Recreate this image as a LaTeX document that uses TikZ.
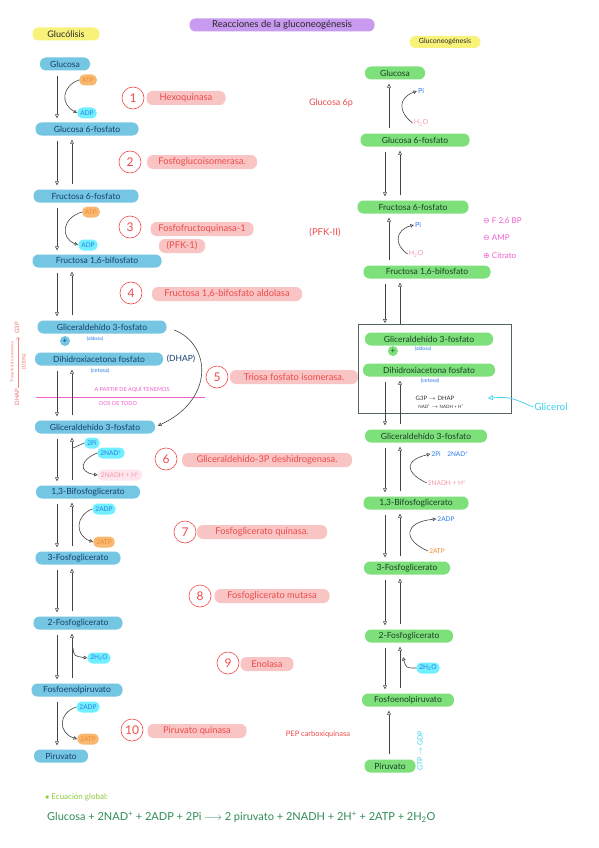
\documentclass[tikz,border=0pt]{standalone}
\usepackage{fontspec}
\setmainfont{Lato}
\newfontfamily\dejavu{DejaVu Sans}
\usetikzlibrary{arrows.meta}
\definecolor{pblue}{HTML}{74C6E2}
\definecolor{tblue}{HTML}{163F70}
\definecolor{pgreen}{HTML}{7EE07A}
\definecolor{tgreen}{HTML}{1A3F26}
\definecolor{ppink}{HTML}{F9C4C4}
\definecolor{tred}{HTML}{EE4B4B}
\definecolor{pcyan}{HTML}{70F0FF}
\definecolor{tcyan}{HTML}{2B7BE8}
\definecolor{porange}{HTML}{F9B872}
\definecolor{torange}{HTML}{F08A2A}
\definecolor{ppurple}{HTML}{C89AF0}
\definecolor{pyellow}{HTML}{F8F27A}
\definecolor{tmag}{HTML}{F060D0}
\definecolor{lpink}{HTML}{FDE6EE}
\definecolor{tpink}{HTML}{F29AA6}
\definecolor{boxc}{HTML}{4F6658}
\definecolor{agray}{HTML}{444444}
\definecolor{glicc}{HTML}{3CCFF0}
\definecolor{eqgreen}{HTML}{2E8B5A}
\definecolor{lgreen}{HTML}{8CCB3C}
\newcommand\fsz[1]{\fontsize{#1}{#1}\selectfont}
\newcommand\pairarr[4]{%
  \draw[arr] (#1.south -| #3) -- (#2.north -| #3);
  \draw[arr] (#2.north -| #4) -- (#1.south -| #4);}
\begin{document}
\begin{tikzpicture}[x=1pt,y=-1pt,
  pill/.style={rounded corners=6pt, minimum height=13pt, inner xsep=3pt, inner ysep=0.5pt, font=\fsz{8.5}},
  gly/.style={pill, fill=pblue, text=tblue},
  gng/.style={pill, fill=pgreen, text=tgreen},
  enz/.style={pill, fill=ppink, text=tred, font=\fsz{9.3}, minimum height=14pt},
  num/.style={circle, draw=tred, text=tred, minimum size=22pt, inner sep=0pt, font=\fsz{12}, line width=0.6pt},
  cof/.style={rounded corners=5pt, minimum height=11pt, inner xsep=3pt, inner ysep=0.5pt, font=\fsz{6.5}},
  cyanp/.style={cof, fill=pcyan, text=tcyan},
  orangep/.style={cof, fill=porange, text=torange},
  pinkp/.style={cof, fill=lpink, text=tpink},
  lbl/.style={inner sep=1pt, font=\fsz{7}},
  plus/.style={circle, inner sep=0pt, minimum size=10pt, font=\fsz{8}},
  arr/.style={draw=agray, line width=0.6pt, -{Triangle[open, length=4pt, width=4pt]}, shorten <=5pt, shorten >=4pt},
  carr/.style={draw=agray, line width=0.6pt, -{Triangle[open, length=3.5pt, width=3.5pt]}},
]
\useasboundingbox (0,0) rectangle (599,848);
\fill[white] (0,0) rectangle (599,848);

% titles
\node[pill, fill=ppurple, text=black!85, minimum width=185pt, font=\fsz{9.5}] (title) at (282,25) {Reacciones de la gluconeogénesis};
\node[pill, fill=pyellow, text=black!85, minimum width=67pt, font=\fsz{9}] (tgl) at (66,34) {Glucólisis};
\node[pill, fill=pyellow, text=black!85, minimum width=71pt, minimum height=12pt, font=\fsz{7}] (tgng) at (445,42) {Gluconeogénesis};

% column coordinates
\coordinate (cA) at (57,0);
\coordinate (cB) at (72,0);
\coordinate (cC) at (385,0);
\coordinate (cD) at (400,0);
\coordinate (cE) at (389,0);

% ---------------- left column (glucolisis)
\node[gly, minimum width=50pt]  (L1)  at (65,64)  {Glucosa};
\node[gly, minimum width=103pt] (L2)  at (87,129) {Glucosa 6-fosfato};
\node[gly, minimum width=105pt] (L3)  at (86,196) {Fructosa 6-fosfato};
\node[gly, minimum width=129pt] (L4)  at (97,261) {Fructosa 1,6-bifosfato};
\node[gly, minimum width=129pt] (L5)  at (102,327) {Gliceraldehído 3-fosfato};
\node[gly, minimum width=128pt] (L6)  at (99,359) {Dihidroxiacetona fosfato};
\node[gly, minimum width=120pt] (L7)  at (95,427) {Gliceraldehído 3-fosfato};
\node[gly, minimum width=104pt] (L8)  at (88,492) {1,3-Bifosfoglicerato};
\node[gly, minimum width=85pt]  (L9)  at (78,558) {3-Fosfoglicerato};
\node[gly, minimum width=89pt]  (L10) at (78,623) {2-Fosfoglicerato};
\node[gly, minimum width=91pt]  (L11) at (77,690) {Fosfoenolpiruvato};
\node[gly, minimum width=54pt]  (L12) at (61,756) {Piruvato};

\node[plus, fill=pblue, text=tblue] (Lplus) at (65,341) {+};
\node[lbl, text=tcyan, font=\fsz{5}] (Lald) at (95,339) {(aldosa)};
\node[lbl, text=tblue, font=\fsz{8.5}] (Ldhap) at (181,359) {(DHAP)};
\node[lbl, text=tcyan, font=\fsz{5.5}] (Lcet) at (100,371) {(cetosa)};

\node[lbl, text=tmag, font=\fsz{5.5}] (apartir) at (132,389) {A PARTIR DE AQUÍ TENEMOS};
\coordinate (pl1) at (36,397);
\coordinate (pl2) at (205,397);
\draw[tmag, line width=0.6pt] (pl1) -- (pl2);
\node[lbl, text=tmag, font=\fsz{5.5}] (dos) at (118,404) {DOS DE TODO};

% left cofactors
\node[orangep] (Latp1) at (88,80)  {ATP};
\node[cyanp]   (Ladp1) at (87,113) {ADP};
\node[orangep] (Latp3) at (91,212) {ATP};
\node[cyanp]   (Ladp3) at (88,245) {ADP};
\node[cyanp]   (Lpi)   at (92,443) {2Pi};
\node[cyanp]   (Lnad)  at (111,453) {2NAD\textsuperscript{+}};
\node[pinkp]   (Lnadh) at (120,475) {2NADH + H\textsuperscript{+}};
\node[cyanp]   (Ladp8) at (104,509) {2ADP};
\node[orangep] (Latp8) at (104,542) {2ATP};
\node[cyanp]   (Lh2o)  at (99,658) {2H\textsubscript{2}O};
\node[cyanp]   (Ladp11) at (88,707) {2ADP};
\node[orangep] (Latp11) at (88,739) {2ATP};
\coordinate (Lpitip) at (73,448);
\coordinate (Lh2oS) at (73,648);

% left arrows
\draw[arr] (L1.south -| cA) -- (L2.north -| cA);
\pairarr{L2}{L3}{cA}{cB}
\draw[arr] (L3.south -| cA) -- (L4.north -| cA);
\pairarr{L4}{L5}{cA}{cB}
\pairarr{L6}{L7}{cA}{cB}
\pairarr{L7}{L8}{cA}{cB}
\pairarr{L8}{L9}{cA}{cB}
\pairarr{L9}{L10}{cA}{cB}
\pairarr{L10}{L11}{cA}{cB}
\draw[arr] (L11.south -| cA) -- (L12.north -| cA);

\draw[carr] (Latp1.west) .. controls (62,86) and (60,104) .. (Ladp1.west);
\draw[carr] (Latp3.west) .. controls (62,218) and (60,238) .. (Ladp3.west);
\draw[agray, line width=0.6pt] (Lpi.west) -- (Lpitip);
\draw[carr] (Lnad.west) .. controls (80,460) and (78,472) .. (Lnadh.west);
\draw[carr] (Ladp8.west) .. controls (76,515) and (74,535) .. (Latp8.west);
\draw[carr] (Lh2oS) .. controls (74,656) .. (Lh2o.west);
\draw[carr] (Ladp11.west) .. controls (58,713) and (58,733) .. (Latp11.west);
\draw[carr, shorten <=8pt, shorten >=3pt] (L5.east) .. controls (212,345) and (214,400) .. (L7.east);

% left vertical note
\coordinate (va1) at (18,388);
\coordinate (va2) at (18,337);
\draw[tred!70, line width=0.5pt, -{Straight Barb[length=2pt]}] (va1) -- (va2);
\node[lbl, rotate=90, text=tred!80, font=\fsz{6}] (vdhap) at (17,397) {DHAP};
\node[lbl, rotate=90, text=tred!80, font=\fsz{6}] (vg3p) at (17,328) {G3P};
\node[lbl, rotate=90, text=tred!80, font=\fsz{3.8}] (vtpi) at (12,362) {Triosa fosfato isomerasa};
\node[lbl, rotate=90, text=tred!80, font=\fsz{5}] (vpct) at (24,362) {(100\%)};

% enzymes
\node[num] (n1) at (133,98) {1};
\node[enz, minimum width=79pt] (E1) at (186,98) {Hexoquinasa};
\node[num] (n2) at (130,162) {2};
\node[enz, minimum width=110pt] (E2) at (202,162) {Fosfoglucoisomerasa.};
\node[num] (n3) at (130,227) {3};
\node[enz, minimum width=103pt] (E3) at (202,229) {Fosfofructoquinasa-1};
\node[enz, minimum width=46pt] (E3b) at (182,246) {(PFK-1)};
\node[num] (n4) at (131,293) {4};
\node[enz, minimum width=150pt] (E4) at (227,294) {Fructosa 1,6-bifosfato aldolasa};
\node[num] (n5) at (217,377) {5};
\node[enz, minimum width=128pt] (E5) at (294,377) {Triosa fosfato isomerasa.};
\node[num] (n6) at (166,459) {6};
\node[enz, minimum width=170pt] (E6) at (267,460) {Gliceraldehído-3P deshidrogenasa.};
\node[num] (n7) at (185,532) {7};
\node[enz, minimum width=130pt] (E7) at (262,532) {Fosfoglicerato quinasa.};
\node[num] (n8) at (200,596) {8};
\node[enz, minimum width=115pt] (E8) at (272,596) {Fosfoglicerato mutasa};
\node[num] (n9) at (228,663) {9};
\node[enz, minimum width=53pt] (E9) at (267,664) {Enolasa};
\node[num] (n10) at (132,730) {10};
\node[enz, minimum width=99pt] (E10) at (197,731) {Piruvato quinasa};

\node[lbl, text=tred, font=\fsz{9}] (g6pasa) at (331,103) {Glucosa 6p};
\node[lbl, text=tred, font=\fsz{9.5}] (pfk2) at (325,233) {(PFK-II)};
\node[lbl, text=tred, font=\fsz{7.5}] (pepck) at (318,734) {PEP carboxiquinasa};

% ---------------- right column (gluconeogenesis)
\node[gng, minimum width=60pt]  (R1)  at (395,73)  {Glucosa};
\node[gng, minimum width=109pt] (R2)  at (415,140) {Glucosa 6-fosfato};
\node[gng, minimum width=111pt] (R3)  at (413,207) {Fructosa 6-fosfato};
\node[gng, minimum width=127pt] (R4)  at (427,272) {Fructosa 1,6-bifosfato};
\node[draw=boxc, line width=0.8pt, minimum width=153pt, minimum height=89pt, inner sep=0pt] (box) at (434.5,368.5) {};
\node[gng, minimum width=128pt] (R5)  at (429,339) {Gliceraldehído 3-fosfato};
\node[gng, minimum width=132pt] (R6)  at (429,370) {Dihidroxiacetona fosfato};
\node[gng, minimum width=122pt] (R7)  at (426,436) {Gliceraldehído 3-fosfato};
\node[gng, minimum width=105pt] (R8)  at (416,503) {1,3-Bifosfoglicerato};
\node[gng, minimum width=86pt]  (R9)  at (407,568) {3-Fosfoglicerato};
\node[gng, minimum width=88pt]  (R10) at (409,636) {2-Fosfoglicerato};
\node[gng, minimum width=92pt]  (R11) at (408,700) {Fosfoenolpiruvato};
\node[gng, minimum width=51pt]  (R12) at (390,766) {Piruvato};

\node[plus, fill=pgreen, text=tgreen] (Rplus) at (393,351) {+};
\node[lbl, text=tcyan, font=\fsz{5}] (Rald) at (423,349) {(aldosa)};
\node[lbl, text=tcyan, font=\fsz{5.5}] (Rcet) at (430,381) {(cetosa)};
\node[lbl, text=black!80, font=\fsz{6}] (rg3p) at (435,398) {G3P $\rightarrow$ DHAP};
\node[lbl, text=black!80, font=\fsz{4.5}] (rnad2) at (441,407) {NAD\textsuperscript{+} $\rightarrow$ NADH + H\textsuperscript{+}};
\node[lbl, text=glicc, font=\fsz{10}] (glic) at (551,407) {Glicerol};
\coordinate (glictip) at (488,398);
\draw[glicc, line width=0.7pt, -{Triangle[open, length=5pt, width=5pt]}] (glic.west) .. controls (510,397) .. (glictip);

% right cofactors
\node[lbl, text=tcyan] (rPi1) at (421,91) {Pi};
\node[lbl, text=tpink] (rH1) at (421,123) {H\textsubscript{2}O};
\node[lbl, text=tcyan] (rPi3) at (418,225) {Pi};
\node[lbl, text=tpink] (rH3) at (416,254) {H\textsubscript{2}O};
\node[lbl, text=tcyan, font=\fsz{6.5}] (rNAD) at (450,454) {2Pi\quad 2NAD\textsuperscript{+}};
\node[lbl, text=tpink, font=\fsz{6.5}] (rNADH) at (447,483) {2NADH + H\textsuperscript{+}};
\node[lbl, text=tcyan, font=\fsz{6.5}] (rADP) at (446,519) {2ADP};
\node[lbl, text=torange, font=\fsz{6.5}] (rATP) at (437,551) {2ATP};
\node[cyanp] (rH2O) at (428,668) {2H\textsubscript{2}O};
\coordinate (rH2Otip) at (403,657);
\node[lbl, rotate=90, text=glicc, font=\fsz{7}] (gtp) at (420,751) {GTP $\rightarrow$ GDP};

% regulators
\node[lbl, anchor=west, text=tmag, font=\fsz{8}] (reg1) at (482,221) {{\dejavu\fsz{8}⊖} F 2,6 BP};
\node[lbl, anchor=west, text=tmag, font=\fsz{8}] (reg2) at (482,238) {{\dejavu\fsz{8}⊖} AMP};
\node[lbl, anchor=west, text=tmag, font=\fsz{8}] (reg3) at (482,256) {{\dejavu\fsz{8}⊕} Citrato};

% right arrows
\draw[arr] (R2.north -| cE) -- (R1.south -| cE);
\pairarr{R2}{R3}{cC}{cD}
\draw[arr] (R4.north -| cE) -- (R3.south -| cE);
\draw[arr, shorten >=0.5pt] (R4.south -| cC) -- (box.north -| cC);
\draw[arr, shorten <=0pt] (box.north -| cD) -- (R4.south -| cD);
\pairarr{R6}{R7}{cC}{cD}
\pairarr{R7}{R8}{cC}{cD}
\pairarr{R8}{R9}{cC}{cD}
\pairarr{R9}{R10}{cC}{cD}
\pairarr{R10}{R11}{cC}{cD}
\draw[arr] (R12.north -| cE) -- (R11.south -| cE);

\draw[carr] (rH1.west) .. controls (398,112) and (398,98) .. (rPi1.west);
\draw[carr] (rH3.west) .. controls (394,245) and (395,230) .. (rPi3.west);
\draw[carr] (rNADH.west) .. controls (404,472) and (405,460) .. (rNAD.west);
\draw[carr] (rATP.west) .. controls (402,540) and (404,522) .. (rADP.west);
\draw[carr] (rH2O.west) .. controls (406,668) .. (rH2Otip);

% global equation
\node[lbl, text=lgreen, font=\fsz{8}, anchor=west] (eqt) at (44,797) {$\bullet$ Ecuación global:};
\node[lbl, text=eqgreen, font=\fsz{11}, anchor=west] (eq) at (46,817) {Glucosa + 2NAD\textsuperscript{+} + 2ADP + 2Pi $\longrightarrow$ 2 piruvato + 2NADH + 2H\textsuperscript{+} + 2ATP + 2H\textsubscript{2}O};
\end{tikzpicture}
\end{document}
